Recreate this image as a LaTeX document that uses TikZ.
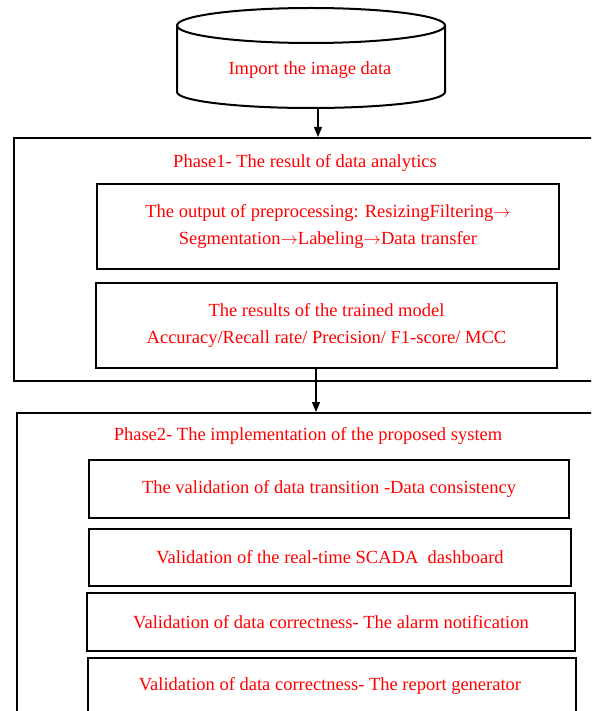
\documentclass[tikz,border=0pt]{standalone}
\usepackage{fontspec}
\setmainfont{Liberation Serif}
\usetikzlibrary{arrows.meta}
\begin{document}
\begin{tikzpicture}[x=1pt,y=-1pt,
  outline/.style={draw=black,line width=2pt},
  frame/.style={outline,rectangle,inner sep=0pt},
  stage/.style={frame,align=center,text=red,font=\fontsize{18.5}{27}\selectfont},
  label/.style={text=red,font=\fontsize{18.5}{22}\selectfont,inner sep=0pt},
  flow/.style={draw=black,line width=1.2pt,-{Triangle[length=10pt,width=8pt]}}]
\clip (0,0) rectangle (591,711);

% data source drawn as a cylinder
\node[inner sep=0pt,minimum width=268pt,minimum height=100pt] (db) at (311,58) {};
\draw[outline,fill=white] (177,25) -- (177,92) arc[start angle=180,end angle=0,x radius=134,y radius=16]
  -- (445,25);
\draw[outline] (311,25.5) ellipse[x radius=134,y radius=17.5];
\node[label] (dbtext) at (310,70) {Import the image data};
\coordinate (dbout) at (318,108);

% phase 1
\node[frame,minimum width=590pt,minimum height=243pt,anchor=north west] (p1) at (13,137) {};
\node[label] (p1title) at (305,163) {Phase1- The result of data analytics};
\node[stage,minimum width=462pt,minimum height=85pt,anchor=north west] (pre) at (96,183)
  {The output of preprocessing: ResizingFiltering\(\rightarrow\)\\Segmentation\(\rightarrow\)Labeling\(\rightarrow\)Data transfer};
\node[stage,minimum width=461pt,minimum height=85pt,anchor=north west] (model) at (95,282)
  {The results of the trained model\\Accuracy/Recall rate/ Precision/ F1-score/ MCC};

% phase 2
\node[frame,minimum width=590pt,minimum height=330pt,anchor=north west] (p2) at (16,412) {};
\node[label] (p2title) at (308,436) {Phase2- The implementation of the proposed system};
\node[stage,minimum width=480pt,minimum height=58pt,anchor=north west] (v1) at (88,459)
  {The validation of data transition -Data consistency};
\node[stage,minimum width=482pt,minimum height=57pt,anchor=north west] (v2) at (88,528)
  {Validation of the real-time SCADA\ \ dashboard};
\node[stage,minimum width=488pt,minimum height=58pt,anchor=north west] (v3) at (86,592)
  {Validation of data correctness- The alarm notification};
\node[stage,minimum width=488pt,minimum height=70pt,anchor=north west] (v4) at (87,657)
  {};
\node[label] (v4text) at (330,686) {Validation of data correctness- The report generator};

% connectors
\draw[flow] (dbout) -- (dbout |- p1.north);
\coordinate (m1) at (316,367);
\draw[flow] (m1) -- (m1 |- p2.north);
\end{tikzpicture}
\end{document}
